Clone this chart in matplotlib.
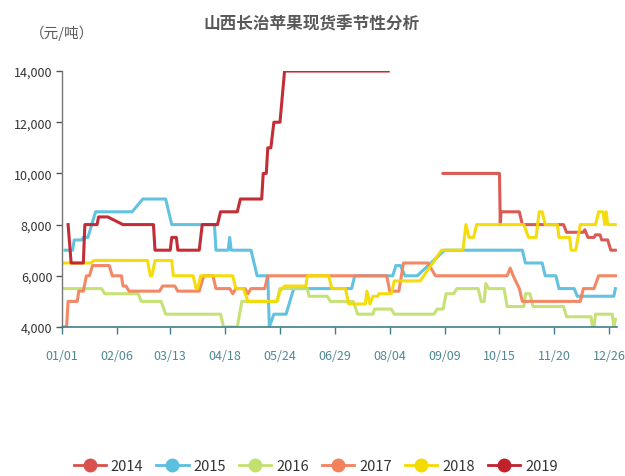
import matplotlib
matplotlib.use("Agg")
import matplotlib.pyplot as plt
from matplotlib.lines import Line2D

plt.rcParams['font.family'] = ['Noto Sans CJK SC', 'DejaVu Sans']

# day of year (0 = 01/01) and price in yuan/ton
days_2014 = [250, 287, 287.5, 288, 300, 302, 329, 331, 342, 343, 345, 349, 350, 353, 354, 358, 360, 363]
vals_2014 = [10000, 10000, 8000, 8500, 8500, 8000, 8000, 7700, 7700, 7800, 7500, 7500, 7600, 7600, 7400, 7400, 7000, 7000]

days_2015 = [2, 7, 8, 13, 14, 17, 22, 46, 53, 68, 72, 100, 101, 109, 110, 111, 124, 128, 135, 136, 139,
             147, 152, 190, 192, 217, 219, 222, 225, 233, 251, 302, 304, 315, 317, 324, 326, 336, 338, 362, 363]
vals_2015 = [7000, 7000, 7400, 7400, 7500, 7500, 8500, 8500, 9000, 9000, 8000, 8000, 7000, 7000, 7500, 7000,
             7000, 6000, 6000, 4000, 4500, 4500, 5500, 5500, 6000, 6000, 6400, 6400, 6000, 6000, 7000, 7000,
             6500, 6500, 6000, 6000, 5500, 5500, 5200, 5200, 5500]

days_2016 = [0, 26, 28, 50, 52, 65, 68, 104, 106, 115, 118, 141, 143, 161, 162, 174, 176, 191, 194, 204,
             205, 216, 218, 244, 246, 250, 252, 257, 259, 273, 275, 277, 278, 280, 290, 292, 303, 304, 307,
             309, 329, 331, 347, 348, 349, 350, 361, 362, 363]
vals_2016 = [5500, 5500, 5300, 5300, 5000, 5000, 4500, 4500, 4000, 4000, 5000, 5000, 5500, 5500, 5200,
             5200, 5000, 5000, 4500, 4500, 4700, 4700, 4500, 4500, 4700, 4700, 5300, 5300, 5500, 5500,
             5000, 5000, 5700, 5500, 5500, 4800, 4800, 5300, 5300, 4800, 4800, 4400, 4400, 4000, 4000,
             4500, 4500, 4000, 4300]

days_2017 = [0, 3, 4, 10, 11, 14, 16, 18, 20, 31, 33, 39, 40, 42, 44, 64, 66, 74, 76, 90, 93, 99, 101,
             110, 112, 114, 120, 122, 124, 133, 135, 213, 215, 221, 224, 240, 245, 292, 294, 296, 300,
             302, 340, 342, 349, 352, 364]
vals_2017 = [4000, 4000, 5000, 5000, 5400, 5400, 6000, 6000, 6400, 6400, 6000, 6000, 5600, 5600, 5400,
             5400, 5600, 5600, 5400, 5400, 6000, 6000, 5500, 5500, 5300, 5500, 5500, 5300, 5500, 5500,
             6000, 6000, 5400, 5400, 6500, 6500, 6000, 6000, 6300, 6000, 5500, 5000, 5000, 5500, 5500,
             6000, 6000]

days_2018 = [0, 19, 21, 56, 58, 59, 61, 72, 73, 86, 88, 89, 91, 112, 114, 119, 122, 141, 143, 146, 160,
             161, 175, 177, 186, 188, 199, 200, 202, 204, 207, 208, 216, 218, 235, 249, 263, 265, 267,
             270, 272, 303, 306, 311, 312, 313, 315, 317, 325, 326, 333, 334, 337, 340, 350, 352, 355,
             356, 357, 358, 363]
vals_2018 = [6500, 6500, 6600, 6600, 6000, 6000, 6600, 6600, 6000, 6000, 5500, 5500, 6000, 6000, 5500,
             5500, 5000, 5000, 5400, 5600, 5600, 6000, 6000, 5500, 5500, 4900, 4900, 5400, 4900, 5200,
             5200, 5300, 5300, 5800, 5800, 7000, 7000, 8000, 7500, 7500, 8000, 8000, 7500, 7500, 8000,
             8500, 8500, 8000, 8000, 7500, 7500, 7000, 7000, 8000, 8000, 8500, 8500, 8000, 8500, 8000,
             8000]

days_2019 = [4, 6, 14, 15, 23, 24, 30, 40, 60, 61, 71, 72, 75, 76, 90, 92, 102, 104, 115, 117, 131, 132,
             134, 135, 137, 139, 143, 146, 214]
vals_2019 = [8000, 6500, 6500, 8000, 8000, 8300, 8300, 8000, 8000, 7000, 7000, 7500, 7500, 7000, 7000,
             8000, 8000, 8500, 8500, 9000, 9000, 10000, 10000, 11000, 11000, 12000, 12000, 14000, 14000]

years = ['2014', '2015', '2016', '2017', '2018', '2019']
colors = ['#D9514C', '#5CBFE0', '#C3E06F', '#F2825E', '#F5DA00', '#C0212B']

tick_days = [0, 36, 71, 107, 143, 179, 215, 251, 287, 323, 359]
tick_labels = ['01/01', '02/06', '03/13', '04/18', '05/24', '06/29',
               '08/04', '09/09', '10/15', '11/20', '12/26']
y_ticks = [4000, 6000, 8000, 10000, 12000, 14000]

series = [
    (days_2014, vals_2014),
    (days_2015, vals_2015),
    (days_2016, vals_2016),
    (days_2017, vals_2017),
    (days_2018, vals_2018),
    (days_2019, vals_2019),
]

fig = plt.figure(figsize=(6.25, 4.77), dpi=100)
ax = fig.add_axes([0.0992, 0.3124, 0.8878, 0.5366])

for (d, v), c in zip(series, colors):
    ax.plot(d, v, color=c, lw=2.2, solid_joinstyle='round', alpha=0.95)

ax.set_xlim(0, 364)
ax.set_ylim(4000, 14000)

ax.set_xticks(tick_days)
ax.set_xticklabels(tick_labels)
ax.set_yticks(y_ticks)
ax.set_yticklabels([f'{t:,}' for t in y_ticks])

axis_teal = '#3F7F8B'
ax.tick_params(axis='x', colors=axis_teal, labelcolor='#4E8893', length=5, width=1,
               direction='out', labelsize=9, pad=11)
ax.tick_params(axis='y', colors='#555555', labelcolor='#333333', length=4, width=1,
               direction='out', labelsize=9, pad=3)

for s in ['top', 'right']:
    ax.spines[s].set_visible(False)
ax.spines['bottom'].set_color(axis_teal)
ax.spines['bottom'].set_linewidth(1.2)
ax.spines['left'].set_color('#777777')
ax.spines['left'].set_linewidth(1)

fig.text(0.498, 0.948, '山西长治苹果现货季节性分析', ha='center', va='center',
         fontsize=12, fontweight='bold', color='#595959')
fig.text(0.099, 0.93, '（元/吨）', ha='center', va='center', fontsize=10.5, color='#595959')

handles = [Line2D([0], [0], color=c, lw=2, marker='o', markersize=9,
                  markerfacecolor=c, markeredgecolor=c) for c in colors]
fig.legend(handles, years, loc='center', bbox_to_anchor=(0.505, 0.021),
           ncol=6, frameon=False, fontsize=10.5, handlelength=2.2, handletextpad=0.35,
           columnspacing=0.9, labelcolor='#333333')

fig.savefig('out.png', dpi=100)
